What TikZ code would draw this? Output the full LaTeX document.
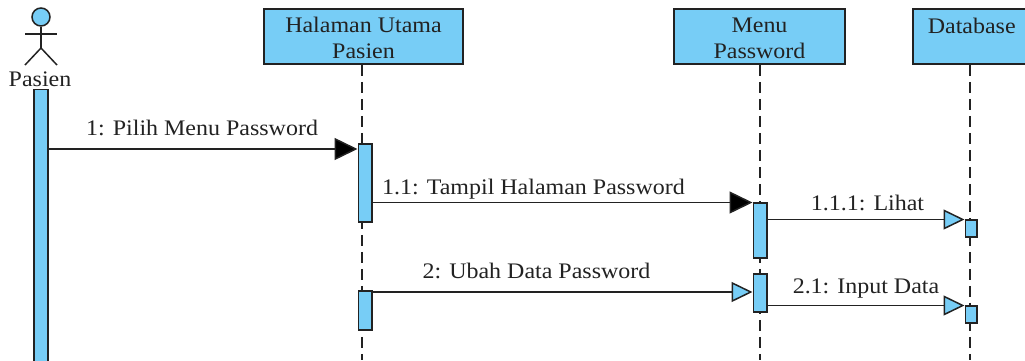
\documentclass[tikz,border=0pt]{standalone}
\usepackage{fontspec}
\setmainfont[FakeStretch=1.08]{Liberation Serif}
\usetikzlibrary{arrows.meta}
\usetikzlibrary{calc}
\definecolor{umlblue}{HTML}{77CDF6}
\definecolor{umlline}{HTML}{222222}
\tikzset{
  every node/.style={text=umlline, font=\fontsize{22.2}{26}\selectfont},
  object/.style={draw=umlline, fill=umlblue, line width=1.5pt, align=center, minimum height=55pt, inner sep=0, text height=45pt},
  bar/.style={draw=umlline, fill=umlblue, line width=1.5pt, anchor=north, inner sep=0, minimum width=13.5pt},
  lifeline/.style={draw=umlline, line width=1.5pt, dash pattern=on 11pt off 6pt},
  actor/.style={draw=umlline, line width=1.5pt},
  call/.style={draw=umlline, line width=1.5pt, -{Triangle[length=23pt,width=22pt,fill=black]}},
  send/.style={draw=umlline, line width=1.5pt, -{Triangle[length=21pt,width=20pt,fill=umlblue]}}
}
\begin{document}
\begin{tikzpicture}[x=1pt, y=-1pt]
  \useasboundingbox (0,0) rectangle (1025,360);

  % objects
  \node (halaman) [object, minimum width=199pt] at (363.5,36.5) {Halaman Utama\\Pasien};
  \node (menu) [object, minimum width=171pt] at (759.5,36.5) {Menu\\Password};
  \node (database) [object, minimum width=118pt, anchor=west] at (912,36.5) {Database\\~};

  % lifelines
  \coordinate (halamanend) at (362,360);
  \coordinate (menuend) at (760,360);
  \coordinate (databaseend) at (970,360);
  \draw [lifeline] (halamanend |- halaman.south) -- (halamanend);
  \draw [lifeline] (menuend |- menu.south) -- (menuend);
  \draw [lifeline] (databaseend |- database.south) -- (databaseend);

  % actor
  \node (head) [actor, circle, fill=umlblue, minimum size=18pt, inner sep=0] at (41,17) {};
  \coordinate (hip) at (41,48);
  \coordinate (larm) at (25,34);
  \coordinate (rarm) at (57,34);
  \coordinate (lfoot) at (25,65);
  \coordinate (rfoot) at (57,65);
  \draw [actor] (head) -- (hip);
  \draw [actor] (larm) -- (rarm);
  \draw [actor] (lfoot) -- (hip) -- (rfoot);
  \node (pasien) at (40,79) {Pasien};

  % activations
  \node (pasienbar) [bar, minimum height=275pt, minimum width=14pt] at (41,88.5) {};
  \node (halamanbar) [bar, minimum height=78pt] at (365,143) {};
  \node (halamanbarb) [bar, minimum height=39pt] at (365,290) {};
  \node (menubar) [bar, minimum height=55pt] at (760,202) {};
  \node (menubarb) [bar, minimum height=38pt] at (760,273) {};
  \node (databasebar) [bar, minimum height=17pt, minimum width=11.5pt] at (971,219) {};
  \node (databasebarb) [bar, minimum height=17pt, minimum width=11.5pt] at (971,305) {};

  % messages
  \draw [call] ([yshift=-6pt]halamanbar.north -| pasienbar.east) -- node (pilih) [above, xshift=-1pt, yshift=9pt] {1: Pilih Menu Password} ([yshift=-6pt]halamanbar.north west);
  \draw [call] ([yshift=-.5pt]menubar.north -| halamanbar.east) -- node (tampil) [above, xshift=-29pt, yshift=-.5pt] {1.1: Tampil Halaman Password} ([yshift=-.5pt]menubar.north west);
  \draw [send] ([yshift=-.5pt]databasebar.north -| menubar.east) -- node (lihat) [above, xshift=1.5pt, yshift=5pt] {1.1.1: Lihat} ([yshift=-.5pt]databasebar.north west);
  \draw [send] ([yshift=-2pt]halamanbarb.north -| halamanbarb.east) -- node (ubah) [above, xshift=-26pt, yshift=9pt] {2: Ubah Data Password} ([yshift=-2pt]halamanbarb.north -| menubarb.west);
  \draw [send] ([yshift=-.5pt]databasebarb.north -| menubarb.east) -- node (input) [above, yshift=3pt] {2.1: Input Data} ([yshift=-.5pt]databasebarb.north west);
\end{tikzpicture}
\end{document}
